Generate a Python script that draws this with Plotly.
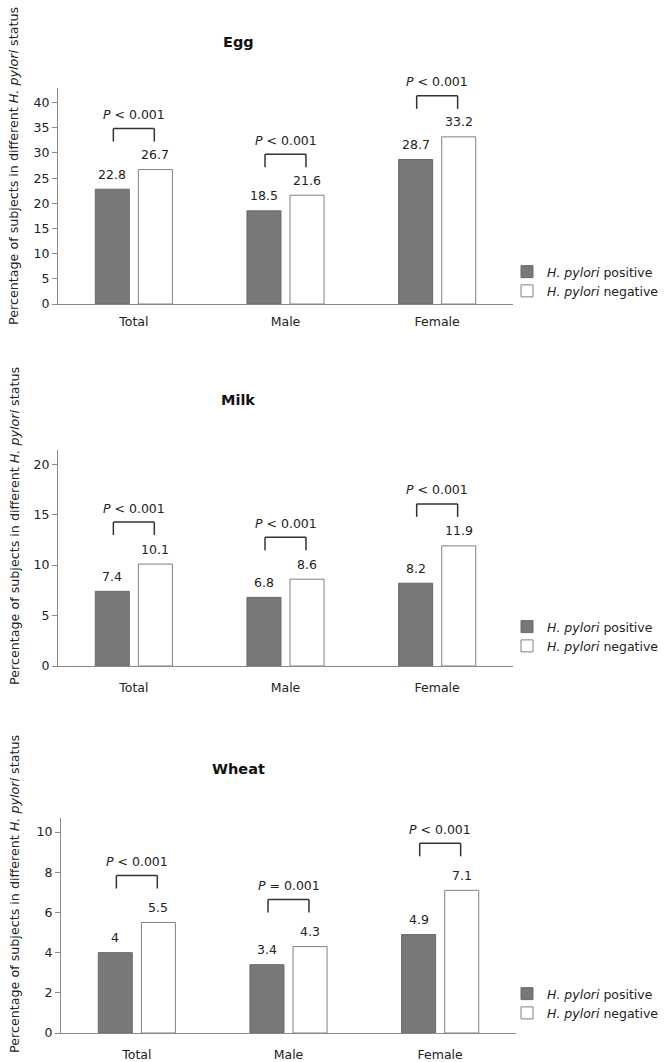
import plotly.graph_objects as go

# data
groups = ["Total", "Male", "Female"]
panels = ["Egg", "Milk", "Wheat"]
egg_pos = [22.8, 18.5, 28.7]
egg_neg = [26.7, 21.6, 33.2]
milk_pos = [7.4, 6.8, 8.2]
milk_neg = [10.1, 8.6, 11.9]
wheat_pos = [4, 3.4, 4.9]
wheat_neg = [5.5, 4.3, 7.1]
egg_p = ["<", "<", "<"]
milk_p = ["<", "<", "<"]
wheat_p = ["<", "=", "<"]
p_value = "0.001"
y_ticks = [[0, 5, 10, 15, 20, 25, 30, 35, 40], [0, 5, 10, 15, 20], [0, 2, 4, 6, 8, 10]]
y_tops = [42.9, 21.4, 10.7]

W, H = 671, 1062
L, R = 58, 155
PW = W - L - R
FONT = "DejaVu Sans"
ytitle = "Percentage of subjects in different <i>H. pylori</i> status"

# pixel layout of each panel:
# (axis top, axis bottom, x shift, title y, legend top, bracket offset, ticklen, y-title centre)
geo = [
    (88, 304, 0, 42, 257, 41, 6, 166),
    (450, 666, 0, 400, 612, 42, 10, 526),
    (818, 1033, 3, 769, 979, 47, 10, 894),
]

series = [(egg_pos, egg_neg, egg_p), (milk_pos, milk_neg, milk_p), (wheat_pos, wheat_neg, wheat_p)]
xs = list(range(len(groups)))

fig = go.Figure()
shapes = []
annots = []

for i, (pos, neg, pops) in enumerate(series):
    top, bot, dx, ty, ly, boff, tl, yc = geo[i]
    n = "" if i == 0 else str(i + 1)
    leg = "legend" + n
    fig.add_trace(go.Bar(x=xs, y=pos, name="<i>H. pylori</i> positive",
                         marker=dict(color="#787878", line=dict(color="#6a6a6a", width=1)),
                         xaxis="x" + n, yaxis="y" + n, legend=leg, offsetgroup="a"))
    fig.add_trace(go.Bar(x=xs, y=neg, name="<i>H. pylori</i> negative",
                         marker=dict(color="white", line=dict(color="#808080", width=1)),
                         xaxis="x" + n, yaxis="y" + n, legend=leg, offsetgroup="b"))

    ydom = [1 - bot / H, 1 - top / H]
    xdom = [dx / PW, (PW - 3 + dx) / PW]
    fig.update_layout(**{
        "xaxis" + n: dict(domain=xdom, range=[-0.5, 2.5], tickvals=xs, ticktext=groups,
                          showline=True, linecolor="#8a8a8a", linewidth=1,
                          ticks="outside", ticklen=tl, tickcolor="rgba(0,0,0,0)",
                          showgrid=False, zeroline=False, anchor="y" + n, fixedrange=True,
                          tickfont=dict(family=FONT, size=12.5, color="#222")),
        "yaxis" + n: dict(domain=ydom, range=[0, y_tops[i]], tickvals=y_ticks[i],
                          showline=True, linecolor="#8a8a8a", linewidth=1,
                          ticks="outside", ticklen=5, tickcolor="#8a8a8a",
                          showgrid=False, zeroline=False, anchor="x" + n,
                          tickfont=dict(family=FONT, size=12.5, color="#222")),
        leg: dict(x=(507 - L) / PW, xanchor="left", y=1 - ly / H, yanchor="top",
                  font=dict(family=FONT, size=12.5, color="#222"), bgcolor="rgba(0,0,0,0)",
                  itemclick=False, itemdoubleclick=False),
    })

    ppu = (bot - top) / y_tops[i]
    xr, yr = "x" + n, "y" + n
    for k in xs:
        # value labels
        for off, v in ((-0.142, pos[k]), (0.142, neg[k])):
            annots.append(dict(x=k + off, y=v, xref=xr, yref=yr, text=f"{v:g}", showarrow=False,
                               yanchor="middle", yshift=15,
                               font=dict(family=FONT, size=12.5, color="#222")))
        # significance bracket
        b_top = max(pos[k], neg[k]) + boff / ppu
        b_leg = b_top - 13 / ppu
        x0, x1 = k - 0.135, k + 0.135
        for (a, b, c, d) in ((x0, b_leg, x0, b_top), (x0, b_top, x1, b_top), (x1, b_top, x1, b_leg)):
            shapes.append(dict(type="line", xref=xr, yref=yr, x0=a, y0=b, x1=c, y1=d,
                               line=dict(color="#333", width=1.5)))
        annots.append(dict(x=k, y=b_top, xref=xr, yref=yr, showarrow=False, yanchor="middle", yshift=14,
                           text=f"<i>P</i> {'&lt;' if pops[k] == '<' else '='} {p_value}",
                           font=dict(family=FONT, size=12.5, color="#222")))

    # panel title
    annots.append(dict(x=(238 - L) / PW, y=1 - ty / H, xref="paper", yref="paper", showarrow=False,
                       xanchor="center", yanchor="middle",
                       text=f"<b>{panels[i]}</b>", font=dict(family=FONT, size=14.5, color="#111")))
    # y axis title
    annots.append(dict(x=(14 - L) / PW, y=1 - yc / H, xref="paper", yref="paper",
                       showarrow=False, textangle=-90, text=ytitle, xanchor="center", yanchor="middle",
                       font=dict(family=FONT, size=12.7, color="#222")))

fig.update_layout(
    width=W, height=H,
    margin=dict(l=L, r=R, t=0, b=0, autoexpand=False),
    paper_bgcolor="white", plot_bgcolor="white",
    barmode="group", bargap=0.432, bargroupgap=0.21,
    shapes=shapes, annotations=annots,
    showlegend=True,
)

# drop the page's default body margin so the figure sits at the window's corner
fig.write_html("out.html", config={"displayModeBar": False},
               post_script="document.body.style.margin='0';document.body.style.overflow='hidden';")
